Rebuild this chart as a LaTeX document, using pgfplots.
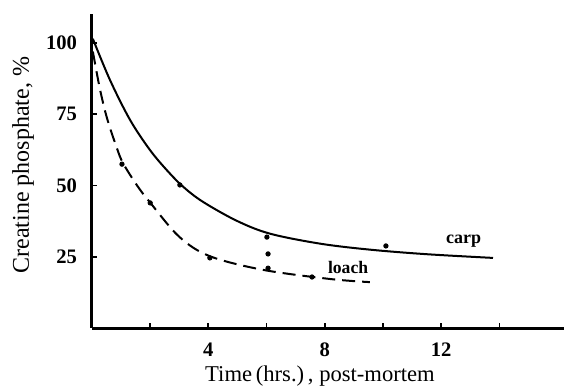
\documentclass[border=0pt]{standalone}
\usepackage{fontspec}
\setmainfont{Liberation Serif}
\usepackage{pgfplots}
\pgfplotsset{compat=1.18}
\begin{document}
\begin{tikzpicture}
\begin{axis}[
  scale only axis,
  width=236pt, height=157pt,
  xmin=0, xmax=16.22, ymin=0, ymax=110.2,
  axis x line=bottom, axis y line=left,
  axis line style={-, line width=1.5pt},
  xtick={2,4,6,8,10,12,14},
  xticklabels={,4,,8,,12,},
  ytick={25,50,75,100},
  tick align=inside,
  major tick length=2.5pt,
  tick style={line width=0.9pt, black},
  /pgf/number format/assume math mode=true,
  xticklabel style={font=\bfseries\fontsize{10.3}{12}\selectfont, yshift=-4pt},
  yticklabel style={font=\bfseries\fontsize{10.3}{12}\selectfont, xshift=-4pt},
  xlabel={Time\,(hrs.)\,, post-mortem},
  ylabel={Creatine phosphate, \%},
  xlabel style={font=\fontsize{11.3}{13}\selectfont, at={(axis description cs:0.483,-0.153)}, anchor=center},
  ylabel style={font=\fontsize{12}{14}\selectfont, at={(axis description cs:-0.146,0.519)}, anchor=center, rotate=0},
  clip=false,
]
% carp curve
\addplot[black, line width=1pt, smooth, tension=0.55] coordinates {
 (0.03,101.5) (0.62,87) (1.31,73) (1.99,62.5) (2.58,55.3) (3.13,49.6)
 (3.81,44.3) (4.98,37.6) (6.12,33.1) (7.84,29.6) (9.55,27.5) (11.5,25.9) (13.78,24.6)
};
% loach curve
\addplot[black, line width=1pt, smooth, tension=0.55, dash pattern=on 6.5pt off 3.5pt] coordinates {
 (0.03,97) (0.27,84) (0.52,73.5) (0.86,63) (1.07,57.8) (1.55,50) (2.0,44)
 (3.0,32) (4.05,25.2) (5.88,20.4) (8.18,17.2) (9.55,16.1)
};
% carp points
\addplot[only marks, mark=*, mark size=1.1pt, black] coordinates {
 (3.02,50.2) (6.01,31.9) (10.1,28.8)
};
% loach points
\addplot[only marks, mark=*, mark size=1.1pt, black] coordinates {
 (1.03,57.5) (2.0,43.9) (4.05,24.6) (6.05,26.0) (6.05,21.0) (7.56,17.9)
};
\node[font=\bfseries\fontsize{9}{11}\selectfont] at (axis cs:12.77,30.4) {carp};
\node[font=\bfseries\fontsize{8.8}{11}\selectfont] at (axis cs:8.8,21.4) {loach};
\coordinate (bl) at (rel axis cs:-0.1949,-0.191);
\coordinate (tr) at (rel axis cs:1,1.0446);
\end{axis}
\pgfresetboundingbox
\path[use as bounding box] (bl) rectangle (tr);
\end{tikzpicture}
\end{document}
